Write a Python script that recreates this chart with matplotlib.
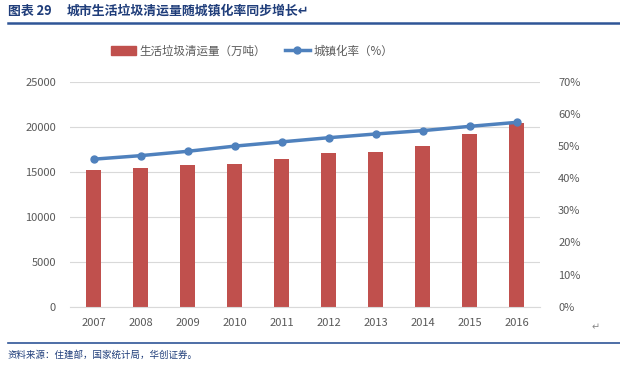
import matplotlib
matplotlib.use("Agg")
import matplotlib.pyplot as plt
from matplotlib.lines import Line2D
from matplotlib.patches import Patch

plt.rcParams['font.family'] = ['Noto Sans CJK SC', 'DejaVu Sans']

years = ['2007', '2008', '2009', '2010', '2011', '2012', '2013', '2014', '2015', '2016']
garbage = [15215, 15438, 15734, 15805, 16395, 17081, 17239, 17860, 19142, 20362]
urban = [45.89, 46.99, 48.34, 49.95, 51.27, 52.57, 53.73, 54.77, 56.10, 57.35]
left_ticks = [0, 5000, 10000, 15000, 20000, 25000]
right_ticks = [0, 10, 20, 30, 40, 50, 60, 70]

bar_color = '#C0504D'
line_color = '#4F81BD'
tick_color = '#595959'
title_color = '#1F3D7A'

fig = plt.figure(figsize=(6.2, 3.71), dpi=100)
ax = fig.add_axes([70/620, 1-306.7/371, 470/620, 225/371])
x = list(range(len(years)))
ax.bar(x, garbage, width=0.3, color=bar_color, zorder=2)
ax.set_xlim(-0.5, len(years)-0.5)
ax.set_ylim(0, 25000)
ax.set_yticks(left_ticks)
ax.set_yticklabels([str(v) for v in left_ticks])
ax.set_xticks(x)
ax.set_xticklabels(years)
ax.grid(axis='y', color='#D9D9D9', linewidth=0.8, zorder=0)
for s in ['top', 'right', 'left']:
    ax.spines[s].set_visible(False)
ax.spines['bottom'].set_color('#D9D9D9')
ax.tick_params(axis='both', length=0, labelsize=8, colors=tick_color, pad=8)
ax.tick_params(axis='y', pad=10)

ax2 = ax.twinx()
ax2.plot(x, urban, color=line_color, linewidth=2.5, marker='o', markersize=5, zorder=3)
ax2.set_ylim(0, 70)
ax2.set_yticks(right_ticks)
ax2.set_yticklabels([f'{v}%' for v in right_ticks])
for s in ['top', 'right', 'left', 'bottom']:
    ax2.spines[s].set_visible(False)
ax2.tick_params(axis='y', length=0, labelsize=8, colors=tick_color, pad=13)

handles = [Patch(facecolor=bar_color, edgecolor=bar_color),
           Line2D([0], [0], color=line_color, linewidth=2.5, marker='o', markersize=5)]
labels = ['生活垃圾清运量（万吨）', '城镇化率（%）']
fig.legend(handles, labels, loc='center', bbox_to_anchor=(252/620, 1-51/371), ncol=2,
           frameon=False, fontsize=8.3, handlelength=2.2, handletextpad=0.3,
           columnspacing=1.6, labelcolor=tick_color)

fig.text(8/620, 1-11/371, '图表 29', fontsize=9.3,
         fontweight='bold', color=title_color, va='center', ha='left')
fig.text(67/620, 1-11/371, '城市生活垃圾清运量随城镇化率同步增长↵', fontsize=9.3,
         fontweight='bold', color=title_color, va='center', ha='left')
fig.add_artist(Line2D([8/620, 1], [1-22.7/371, 1-22.7/371], color='#2F5597', linewidth=1.8))
fig.add_artist(Line2D([8/620, 1], [1-342.7/371, 1-342.7/371], color='#2F5597', linewidth=1.2))
fig.text(8/620, 1-355/371, '资料来源：住建部，国家统计局，华创证券。', fontsize=6.8,
         color=title_color, va='center', ha='left', style='italic')
fig.text(592/620, 1-327/371, '↵', fontsize=7, color='#888888', va='center', ha='left')

fig.savefig('out.png', dpi=100)
